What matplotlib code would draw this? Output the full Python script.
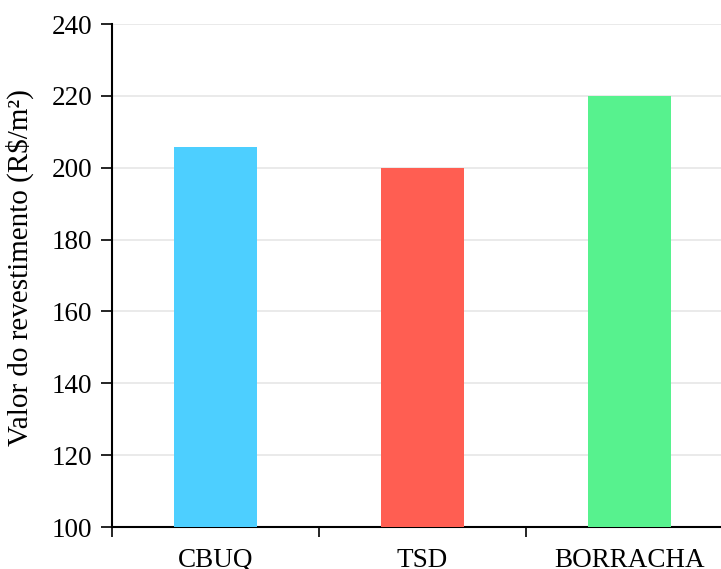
import numpy as np
import matplotlib
matplotlib.use("Agg")
import matplotlib.pyplot as plt

categories = ["CBUQ", "TSD", "BORRACHA"]
valores = [205.7, 200.0, 220.0]
cores = ["#4DCFFF", "#FF5E52", "#57F28E"]
yticks = [100, 120, 140, 160, 180, 200, 220, 240]

plt.rcParams['font.family'] = ['Liberation Serif', 'DejaVu Serif']

fig = plt.figure(figsize=(7.21, 5.69), dpi=100)
ax = fig.add_axes([0.1553, 0.0738, 0.8613, 0.884])

x = np.arange(len(categories))
ax.bar(x, valores, width=0.4, color=cores, zorder=3)

ax.set_xlim(-0.5, len(categories) - 0.5)
ax.set_ylim(100, 240)
ax.set_yticks(yticks)
ax.yaxis.grid(True, color="#E6E6E6", linewidth=1.2, zorder=0)

ax.set_xticks(x)
ax.set_xticklabels(categories)
ax.set_xticks(np.arange(-0.5, len(categories)), minor=True)
ax.tick_params(axis="x", which="major", length=0, pad=15, labelsize=19.5)
ax.tick_params(axis="x", which="minor", length=7, width=1.2, direction="out")
ax.tick_params(axis="y", length=8, width=1.2, labelsize=19.5, pad=6)

for s in ["top", "right"]:
    ax.spines[s].set_visible(False)
for s in ["left", "bottom"]:
    ax.spines[s].set_linewidth(1.5)

ax.set_ylabel("Valor do revestimento (R$/m²)", fontsize=21)
ax.yaxis.set_label_coords(-0.125, 0.515)

fig.savefig("out.png", dpi=100)
